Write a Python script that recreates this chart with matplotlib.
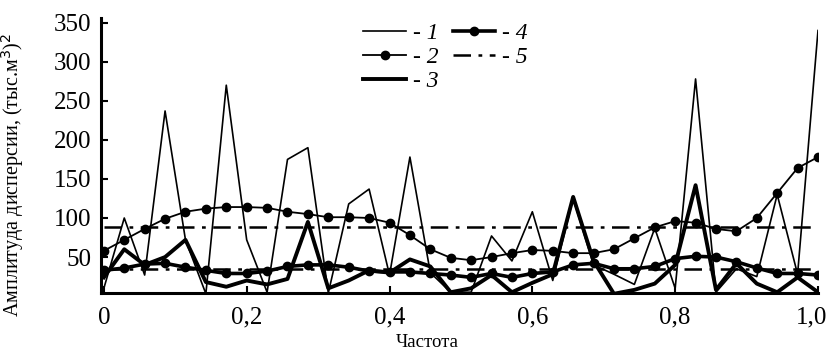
import matplotlib as mpl
mpl.use('Agg')
import matplotlib.pyplot as plt
import matplotlib.transforms as mtransforms
import numpy as np

plt.rcParams['font.family'] = ['Liberation Serif', 'DejaVu Serif']

# --- data (36 frequencies from 0 to 1)
freq = np.arange(36) / 35.

s1 = [10, 100, 27, 237, 72, 3, 270, 72, 5, 175, 190, 4, 118, 137, 27, 178, 30, 5,
      5, 77, 45, 108, 20, 125, 40, 28, 15, 87, 10, 278, 5, 35, 25, 130, 28, 340]
s2 = [58, 72, 86, 99, 108, 112, 114, 114, 113, 108, 105, 101, 101, 100, 94, 78, 60, 49,
      46, 50, 55, 59, 58, 55, 55, 60, 74, 88, 96, 94, 86, 83, 100, 132, 164, 178]
s3 = [24, 60, 40, 50, 72, 18, 12, 20, 15, 22, 95, 10, 20, 33, 30, 47, 38, 5,
      10, 27, 5, 17, 28, 127, 45, 3, 8, 16, 40, 142, 8, 42, 16, 5, 24, 5]
s4 = [33, 36, 41, 42, 37, 33, 29, 29, 32, 38, 40, 40, 37, 32, 31, 31, 29, 27,
      24, 29, 24, 29, 31, 40, 42, 35, 35, 38, 48, 51, 50, 44, 36, 29, 29, 27]
mean_hi = 88
mean_lo = 35

xticks = [0, 0.2, 0.4, 0.6, 0.8, 1.0]
xticklabels = ['0', '0,2', '0,4', '0,6', '0,8', '1,0']
yticks = [50, 100, 150, 200, 250, 300, 350]

# ----------------------------------------------------------------------
fig = plt.figure(figsize=(8.31, 3.56), dpi=100)
ax = fig.add_axes([101/831, 63/356, 717/831, 275/356])

dashdot = (0, (7, 3, 1.5, 3))

ax.plot(freq, s1, c='k', lw=1.2, label='- 1')
ax.plot(freq, s2, c='k', lw=1.3, marker='o', ms=6, label='- 2')
ax.plot(freq, s3, c='k', lw=2.8, label='- 3')
ax.plot(freq, s4, c='k', lw=2.6, marker='o', ms=6, label='- 4')
ax.plot([0, 1], [mean_hi, mean_hi], c='k', lw=1.8, ls=dashdot, label='- 5')
ax.plot([0, 1], [mean_lo, mean_lo], c='k', lw=1.8, ls=dashdot)

ax.set_xlim(-0.004, 1.0)
ax.set_ylim(4, 356)

ax.set_xticks(xticks)
ax.set_xticklabels(xticklabels)
ax.set_yticks(yticks)
ax.tick_params(direction='in', length=5, width=1.5, labelsize=18)
ax.tick_params(axis='x', pad=10)
ax.tick_params(axis='y', pad=7)

# --- last x label sits a little left of its tick, as in the original
lab = ax.get_xticklabels()[-1]
lab.set_transform(lab.get_transform() + mtransforms.ScaledTranslation(-6/100, 0, fig.dpi_scale_trans))

for sp in ['top', 'right']:
    ax.spines[sp].set_visible(False)
for sp in ['left', 'bottom']:
    ax.spines[sp].set_linewidth(2.2)

ax.set_xlabel('Частота', fontsize=13.5)
ax.xaxis.set_label_coords(0.455, -0.15)
ax.set_ylabel('Амплитуда дисперсии, (тыс.м$^3$)$^2$', fontsize=14.5)
ax.yaxis.set_label_coords(-0.105, 0.43)

leg = fig.legend(loc='upper left', bbox_to_anchor=(342/831, 1 - 1/356), ncol=2,
                 frameon=False, handlelength=1.8, handletextpad=0.3, labelspacing=0.12,
                 columnspacing=0.6, prop={'family': 'Liberation Serif', 'style': 'italic', 'size': 17})

fig.savefig('out.png', dpi=100)
